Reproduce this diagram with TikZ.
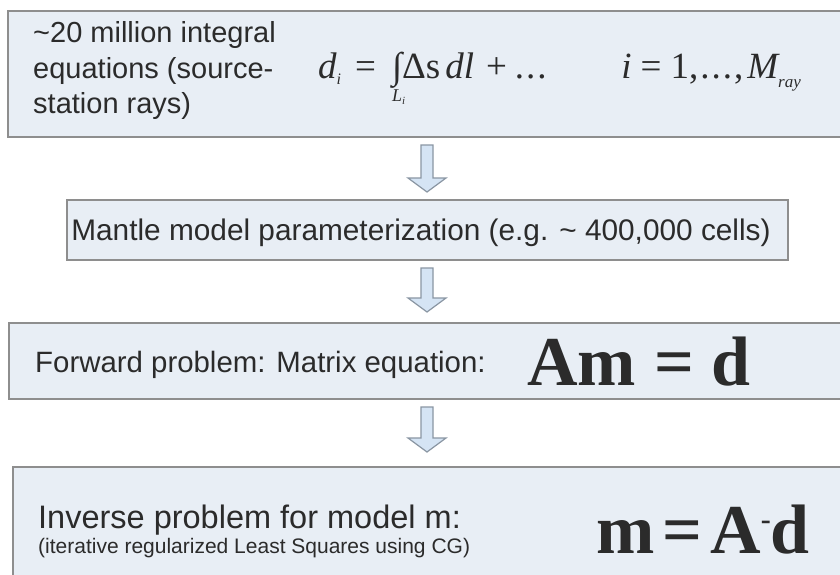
\documentclass[tikz,border=0pt]{standalone}
\usepackage{fontspec}
\setmainfont{Liberation Sans}
\newfontfamily\tnr{Liberation Serif}
\usetikzlibrary{calc}
\definecolor{boxfill}{HTML}{E8EEF5}
\definecolor{boxline}{HTML}{8E8E8E}
\definecolor{txt}{HTML}{2B2B2B}
\definecolor{arrfill}{HTML}{D5E4F4}
\definecolor{arrline}{HTML}{8A96A3}
\newcommand\blkarrow[2]{%
  \draw[arrowst] let \p1=(#1), \p2=(#2) in
    (\x1-6pt,\y1) -- (\x1+6pt,\y1) -- (\x1+6pt,\y2+14pt) -- (\x1+19pt,\y2+14pt)
    -- (\x2,\y2) -- (\x1-19pt,\y2+14pt) -- (\x1-6pt,\y2+14pt) -- cycle;}
\begin{document}
\begin{tikzpicture}[x=1pt,y=-1pt,
  panel/.style={draw=boxline,line width=1.6pt,fill=boxfill,anchor=north west,inner sep=0pt},
  arrowst/.style={draw=arrline,line width=1.2pt,fill=arrfill,line join=miter},
  lbl/.style={text=txt,inner sep=0pt,font=\fontsize{29}{35}\selectfont},
  eq/.style={text=txt,inner sep=0pt,font=\tnr\fontsize{37}{37}\selectfont},
  big/.style={text=txt,inner sep=0pt,font=\tnr\bfseries\fontsize{70}{70}\selectfont}]
\useasboundingbox (0,0) rectangle (840,574);
\clip (0,0) rectangle (840,574);
\fill[white] (0,0) rectangle (840,574);
% panels
\node[panel,minimum width=843pt,minimum height=126pt] (b1) at (7,10) {};
\node[panel,minimum width=721pt,minimum height=60pt] (b2) at (66,199) {};
\node[panel,minimum width=843pt,minimum height=76pt] (b3) at (8,322) {};
\node[panel,minimum width=843pt,minimum height=120pt] (b4) at (12,466) {};
% texts box 1
\node[lbl,anchor=base west] (t1a) at (33,42) {\textasciitilde20 million integral};
\node[lbl,anchor=base west] (t1b) at (33,78) {equations (source-};
\node[lbl,anchor=base west] (t1c) at (33,113) {station rays)};
\node[eq,anchor=base west] (f1a) at (318,78) {\itshape d\raisebox{-6pt}{\fontsize{16}{16}\selectfont i}\hspace{14pt}{\upshape =}\hspace{16pt}\makebox[0pt][l]{\raisebox{-23pt}{\fontsize{18}{18}\selectfont L\raisebox{-3pt}{\fontsize{11}{11}\selectfont i}}}{\upshape ∫Δs\hspace{5pt}}dl\hspace{12pt}{\upshape +\hspace{8pt}.\hspace{2pt}.\hspace{2pt}.}};
\node[eq,anchor=base east] (f1b) at (801,78) {\itshape i\hspace{9pt}{\upshape =\hspace{9pt}1,\hspace{2pt}.\hspace{2pt}.\hspace{2pt}.\hspace{2pt},\hspace{4pt}}M\raisebox{-9pt}{\fontsize{17}{17}\selectfont ray}};
% box 2
\node[lbl,anchor=base,font=\fontsize{29.8}{35}\selectfont] (t2) at (421,240) {Mantle model parameterization (e.g. \textasciitilde{} 400,000 cells)};
% box 3
\node[lbl,anchor=base west,font=\fontsize{29.4}{35}\selectfont] (t3) at (35,372) {Forward problem: Matrix equation:};
\node[big,anchor=base west] (f3) at (527,385) {Am\hspace{18pt}=\hspace{18pt}d};
% box 4
\node[lbl,anchor=base west,font=\fontsize{32.5}{35}\selectfont] (t4) at (38,528) {Inverse problem for model m:};
\node[lbl,anchor=base west,font=\fontsize{21}{24}\selectfont] (t5) at (38,553) {(iterative regularized Least Squares using CG)};
\node[big,anchor=base west] (f4) at (596,553) {m\hspace{8pt}=\hspace{8pt}A\raisebox{24pt}{\fontsize{30}{30}\selectfont -}d};
% arrows
\coordinate (a1s) at (427,145); \coordinate (a1e) at (427,192);
\coordinate (a2s) at (427,268); \coordinate (a2e) at (427,312);
\coordinate (a3s) at (427,407); \coordinate (a3e) at (427,452);
\blkarrow{a1s}{a1e}
\blkarrow{a2s}{a2e}
\blkarrow{a3s}{a3e}
\end{tikzpicture}
\end{document}
